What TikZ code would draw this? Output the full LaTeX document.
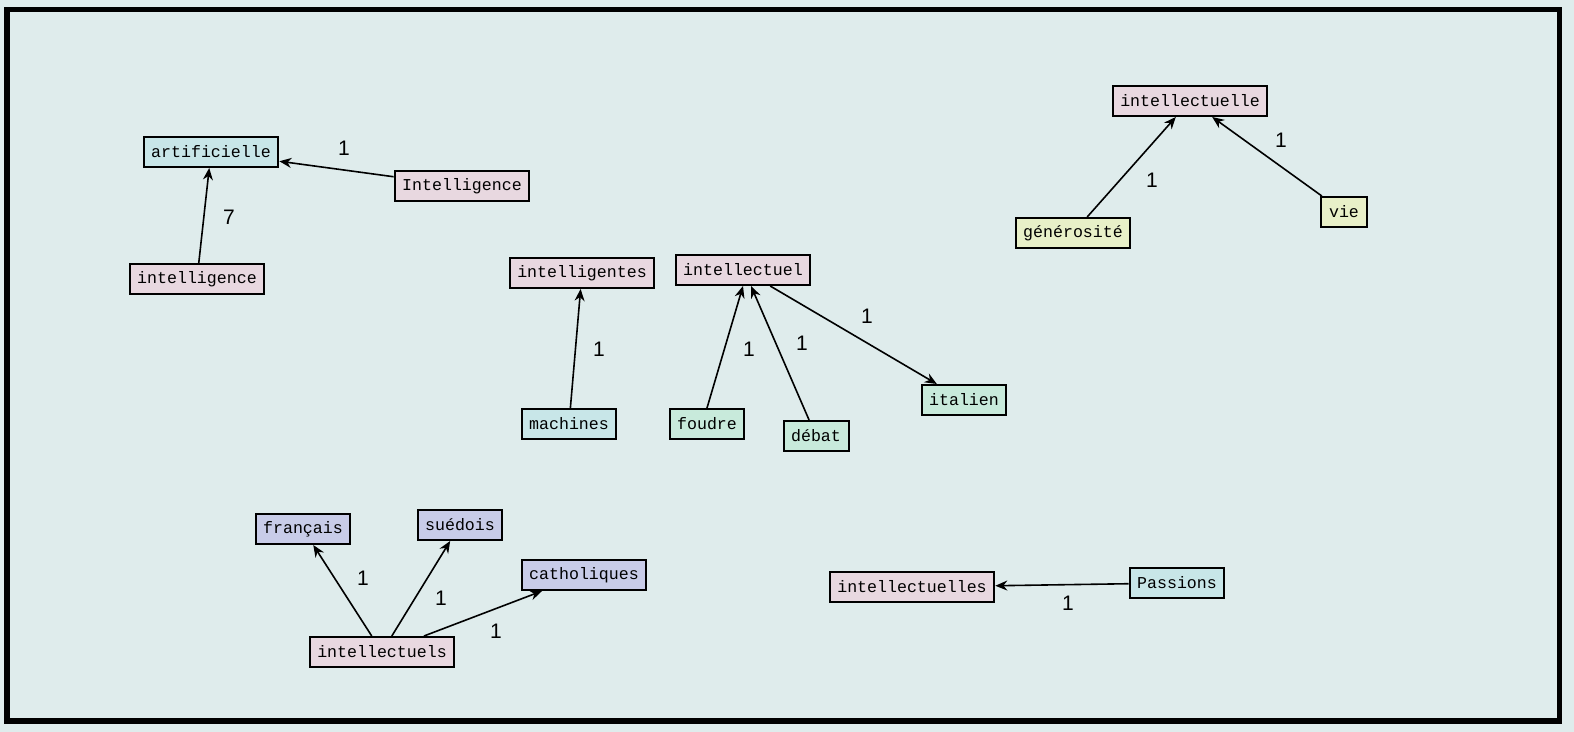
\documentclass[tikz,border=0pt]{standalone}
\usepackage{fontspec}
\setmainfont{Liberation Sans}
\newfontfamily\boxfont{Liberation Mono}
\usetikzlibrary{arrows.meta}
\definecolor{bgc}{HTML}{DFECEC}
\definecolor{cpink}{HTML}{E8D8E0}
\definecolor{ccyan}{HTML}{C8E6E8}
\definecolor{cgreen}{HTML}{C8EADB}
\definecolor{cyell}{HTML}{E8F0C8}
\definecolor{cblue}{HTML}{C8CCE8}
\tikzset{
  wbox/.style={draw=black, line width=1pt, minimum height=15pt, inner xsep=3.8pt, inner ysep=0pt, font=\boxfont\fontsize{8.3}{9}\selectfont},
  pinkbox/.style={wbox, fill=cpink},
  cyanbox/.style={wbox, fill=ccyan},
  greenbox/.style={wbox, fill=cgreen},
  yellbox/.style={wbox, fill=cyell},
  bluebox/.style={wbox, fill=cblue},
  edge/.style={draw=black, line width=0.8pt, -{Stealth[length=6pt,width=5pt]}},
  lab/.style={font=\fontsize{10.5}{12}\selectfont, inner sep=0pt}
}
\begin{document}
\begin{tikzpicture}[x=0.5pt,y=-0.5pt]
\fill[bgc] (0,0) rectangle (1574,732);
\useasboundingbox (0,0) rectangle (1574,732);
\draw[line width=2.8pt] (7,9.5) rectangle (1559.5,721);

\node[cyanbox] (artificielle) at (211,152) {artificielle};
\node[pinkbox] (Intelligence) at (462,186) {Intelligence};
\node[pinkbox] (intelligence) at (197,279) {intelligence};
\node[pinkbox] (intelligentes) at (582,273) {intelligentes};
\node[pinkbox] (intellectuel) at (743,270) {intellectuel};
\node[cyanbox] (machines) at (569,424) {machines};
\node[greenbox] (foudre) at (707,424) {foudre};
\node[greenbox] (debat) at (816,436) {débat};
\node[greenbox] (italien) at (964,400) {italien};
\node[pinkbox] (intellectuelle) at (1190,101) {intellectuelle};
\node[yellbox] (generosite) at (1073,233) {générosité};
\node[yellbox] (vie) at (1344,212) {vie};
\node[bluebox] (francais) at (303,529) {français};
\node[bluebox] (suedois) at (460,525) {suédois};
\node[bluebox] (catholiques) at (584,575) {catholiques};
\node[pinkbox] (intellectuels) at (382,652) {intellectuels};
\node[pinkbox] (intellectuelles) at (912,587) {intellectuelles};
\node[cyanbox] (Passions) at (1177,583) {Passions};

\draw[edge] (Intelligence) -- (artificielle);
\draw[edge] (intelligence) -- (artificielle);
\draw[edge] (machines) -- (intelligentes);
\draw[edge] (foudre.north) -- (intellectuel.south);
\draw[edge] (debat) -- ([xshift=4pt]intellectuel.south);
\draw[edge] (intellectuel) -- (italien);
\draw[edge] (generosite) -- (intellectuelle);
\draw[edge] (vie) -- (intellectuelle);
\draw[edge] (intellectuels) -- (francais);
\draw[edge] (intellectuels) -- (suedois);
\draw[edge] (intellectuels) -- (catholiques);
\draw[edge] (Passions) -- (intellectuelles);

\node[lab] (l1) at (344,148) {1};
\node[lab] (l2) at (229,217) {7};
\node[lab] (l3) at (599,349) {1};
\node[lab] (l4) at (749,349) {1};
\node[lab] (l5) at (802,343) {1};
\node[lab] (l6) at (867,316) {1};
\node[lab] (l7) at (1152,180) {1};
\node[lab] (l8) at (1281,140) {1};
\node[lab] (l9) at (363,578) {1};
\node[lab] (l10) at (441,598) {1};
\node[lab] (l11) at (496,631) {1};
\node[lab] (l12) at (1068,603) {1};
\end{tikzpicture}
\end{document}
